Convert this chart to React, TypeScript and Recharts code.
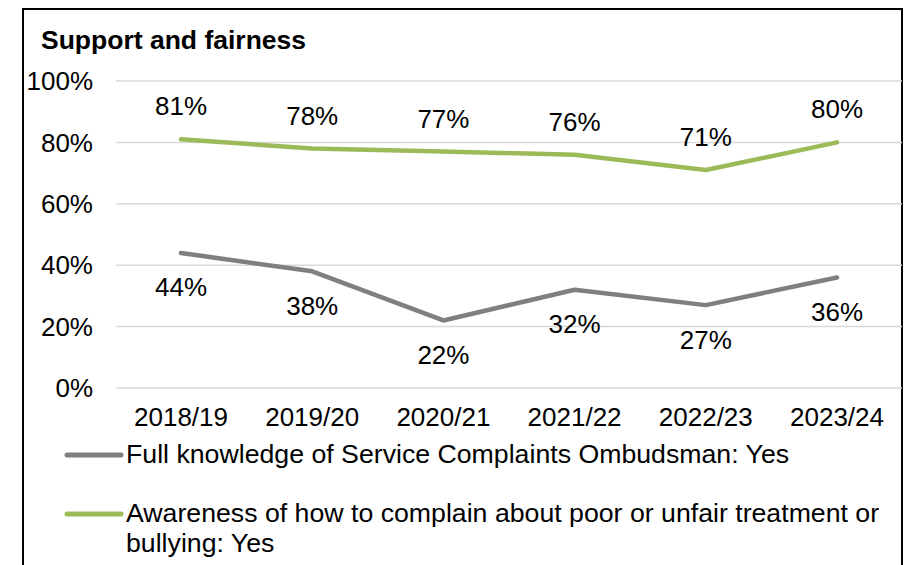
import { CartesianGrid, LabelList, Line, LineChart, XAxis, YAxis } from "recharts"

// Excel-style line chart, two survey measures over six years
const years = ["2018/19", "2019/20", "2020/21", "2021/22", "2022/23", "2023/24"]
const knowledge = [44, 38, 22, 32, 27, 36]
const awareness = [81, 78, 77, 76, 71, 80]
const yTicks = [0, 20, 40, 60, 80, 100]

const GREY = "#7f7f7f"
const GREEN = "#9bbb59"
const FONT = "Arial, 'Liberation Sans', sans-serif"

const series = [
  { key: "knowledge", color: GREY, position: "bottom" as const, lines: ["Full knowledge of Service Complaints Ombudsman: Yes"] },
  {
    key: "awareness",
    color: GREEN,
    position: "top" as const,
    lines: ["Awareness of how to complain about poor or unfair treatment or", "bullying: Yes"]
  }
]

const data = years.map((year, i) => ({ year, knowledge: knowledge[i], awareness: awareness[i] }))

const tickStyle = { fontSize: 26, fill: "#000", fontFamily: FONT }

export default function App() {
  return (
    <div
      style={{
        position: "absolute",
        left: 0,
        top: 0,
        width: 907,
        height: 565,
        overflow: "hidden",
        background: "#fff",
        fontFamily: FONT
      }}
    >
      <div
        style={{
          position: "absolute",
          left: 22,
          top: 8,
          width: 881,
          height: 620,
          boxSizing: "border-box",
          border: "2px solid #000"
        }}
      />
      <LineChart
        width={907}
        height={565}
        data={data}
        margin={{ top: 81, right: 5, bottom: 147, left: 0 }}
        style={{ position: "absolute", left: 0, top: 0 }}
      >
        <CartesianGrid vertical={false} stroke="#d9d9d9" strokeWidth={1.5} />
        <XAxis
          dataKey="year"
          axisLine={false}
          tickLine={false}
          tickSize={0}
          tickMargin={20}
          height={30}
          interval={0}
          padding={{ left: 65, right: 65 }}
          tick={tickStyle}
        />
        <YAxis
          domain={[0, 100]}
          ticks={yTicks}
          axisLine={false}
          tickLine={false}
          tickSize={0}
          tickMargin={23}
          width={116}
          tick={tickStyle}
          tickFormatter={(v: number) => `${v}%`}
        />
        {series.map((s) => (
          <Line
            key={s.key}
            dataKey={s.key}
            type="linear"
            stroke={s.color}
            strokeWidth={4.5}
            strokeLinecap="round"
            strokeLinejoin="round"
            dot={false}
            activeDot={false}
            isAnimationActive={false}
          >
            <LabelList
              dataKey={s.key}
              position={s.position}
              offset={s.position === "top" ? 24 : 25}
              fill="#000"
              fontSize={26}
              fontFamily={FONT}
              formatter={(v) => `${v}%`}
            />
          </Line>
        ))}
      </LineChart>
      <svg width={907} height={565} style={{ position: "absolute", left: 0, top: 0, pointerEvents: "none" }}>
        <text x={41} y={49} fontSize={26.5} fontWeight="bold" fontFamily={FONT} fill="#000">
          Support and fairness
        </text>
        {series.map((s, i) => {
          const y = i === 0 ? 455 : 514
          return (
            <g key={s.key}>
              <line x1={67} x2={121} y1={y} y2={y} stroke={s.color} strokeWidth={5} strokeLinecap="round" />
              {s.lines.map((t, j) => (
                <text key={j} x={126} y={y + 8 + j * 30} fontSize={26.7} fontFamily={FONT} fill="#000">
                  {t}
                </text>
              ))}
            </g>
          )
        })}
      </svg>
    </div>
  )
}
